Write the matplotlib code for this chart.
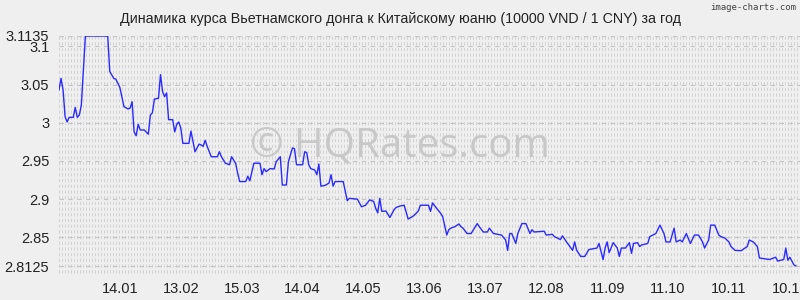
import numpy as np
import matplotlib
matplotlib.use('Agg')
import matplotlib.pyplot as plt

# day number since 15.12 of the previous year
days = [0, 1, 2, 3, 4, 5, 7, 8, 9, 10, 11, 13, 24, 25, 27, 28, 30, 32, 34, 35,
        36, 37, 38, 39, 40, 42, 44, 45, 46, 47, 49, 50, 51, 52, 53, 54, 56, 57, 58, 59,
        60, 61, 64, 65, 67, 69, 70, 71, 72, 73, 75, 78, 79, 80, 82, 84, 85, 87, 88, 89,
        92, 93, 94, 96, 99, 100, 101, 102, 104, 106, 107, 109, 110, 112, 113, 115, 116, 117, 120, 121,
        122, 123, 124, 126, 127, 128, 129, 131, 133, 134, 135, 136, 140, 142, 143, 147, 149, 151, 153, 155,
        156, 157, 158, 159, 161, 163, 165, 166, 168, 170, 171, 172, 174, 175, 177, 178, 182, 183, 184, 186,
        188, 189, 191, 192, 193, 195, 197, 198, 199, 201, 203, 206, 207, 209, 211, 212, 214, 216, 218, 220,
        221, 222, 223, 225, 226, 228, 230, 232, 233, 234, 239, 240, 243, 244, 247, 248, 250, 253, 254, 255,
        257, 259, 261, 265, 266, 268, 269, 270, 271, 273, 275, 276, 277, 279, 281, 282, 283, 285, 286, 287,
        290, 291, 294, 296, 298, 299, 301, 303, 304, 306, 307, 309, 311, 313, 315, 317, 318, 320, 321, 323,
        325, 326, 328, 330, 331, 333, 336, 339, 340, 342, 344, 345, 350, 353, 354, 357, 358, 359, 360, 362,
        363]
rates = [3.043, 3.058, 3.043, 3.008, 3.001, 3.007, 3.007, 3.020, 3.007, 3.010, 3.023, 3.1135, 3.1135, 3.067, 3.058, 3.057, 3.046, 3.021, 3.018, 3.019,
         3.0275, 2.988, 2.983, 2.998, 2.9905, 2.9905, 2.985, 3.010, 3.013, 3.031, 3.032, 3.063, 3.041, 3.034, 3.039, 3.004, 3.004, 2.988, 2.998, 3.001,
         2.993, 2.973, 2.973, 2.989, 2.962, 2.972, 2.971, 2.969, 2.977, 2.969, 2.9555, 2.9555, 2.962, 2.9555, 2.947, 2.945, 2.9555, 2.947, 2.934, 2.923,
         2.923, 2.930, 2.924, 2.947, 2.947, 2.932, 2.940, 2.936, 2.940, 2.9395, 2.949, 2.9555, 2.9185, 2.9185, 2.949, 2.967, 2.966, 2.945, 2.945, 2.962,
         2.961, 2.945, 2.940, 2.938, 2.932, 2.946, 2.917, 2.918, 2.921, 2.932, 2.917, 2.923, 2.923, 2.898, 2.901, 2.900, 2.890, 2.892, 2.899, 2.897,
         2.888, 2.882, 2.901, 2.884, 2.8845, 2.876, 2.886, 2.889, 2.891, 2.892, 2.883, 2.874, 2.877, 2.879, 2.8845, 2.892, 2.892, 2.884, 2.895, 2.888,
         2.8815, 2.877, 2.853, 2.860, 2.862, 2.864, 2.8675, 2.864, 2.862, 2.855, 2.855, 2.868, 2.864, 2.857, 2.857, 2.862, 2.855, 2.854, 2.853, 2.8465,
         2.833, 2.855, 2.855, 2.842, 2.855, 2.868, 2.868, 2.855, 2.860, 2.857, 2.858, 2.853, 2.854, 2.851, 2.847, 2.852, 2.844, 2.833, 2.844, 2.833,
         2.825, 2.825, 2.834, 2.836, 2.842, 2.821, 2.836, 2.844, 2.830, 2.843, 2.836, 2.825, 2.836, 2.836, 2.843, 2.829, 2.842, 2.843, 2.838, 2.840,
         2.842, 2.851, 2.855, 2.866, 2.855, 2.844, 2.844, 2.862, 2.844, 2.8465, 2.844, 2.855, 2.842, 2.853, 2.853, 2.844, 2.836, 2.8465, 2.866, 2.866,
         2.853, 2.851, 2.849, 2.844, 2.838, 2.833, 2.8325, 2.838, 2.8465, 2.844, 2.838, 2.823, 2.821, 2.824, 2.819, 2.821, 2.836, 2.820, 2.824, 2.814,
         2.8125]

x_tick_days = [30, 60, 90, 120, 150, 180, 210, 240, 270, 300, 330, 360]
x_tick_labels = ['14.01', '13.02', '15.03', '14.04', '14.05', '13.06',
                 '13.07', '12.08', '11.09', '11.10', '10.11', '10.12']
y_ticks = [2.8125, 2.85, 2.9, 2.95, 3.0, 3.05, 3.1, 3.1135]
y_labels = ['2.8125', '2.85', '2.9', '2.95', '3', '3.05', '3.1', '3.1135']

title = 'Динамика курса Вьетнамского донга к Китайскому юаню (10000 VND / 1 CNY) за год'

plt.rcParams['font.family'] = ['Liberation Sans', 'DejaVu Sans']
bg = '#efefef'

fig = plt.figure(figsize=(8, 3), dpi=100, facecolor=bg)
ax = fig.add_axes([59 / 800, 24 / 300, 741 / 800, 240 / 300])
ax.set_facecolor(bg)

y_top = 3.1135
y_bot = 2.8125 - 10 * 0.301 / 230
ax.set_xlim(0, 365)
ax.set_ylim(y_bot, y_top)

# textured background grid: dense dashed vertical lines
gx = np.linspace(0, 365, 248)
ax.vlines(gx, y_top, y_bot, colors='#d2d2d2', linewidth=0.72,
          linestyles=(0, (3.2, 2.5)), zorder=1)
for yv in y_ticks:
    ax.axhline(yv, color='#c4c4c4', linewidth=0.8, linestyle=(0, (4, 4)), zorder=1)

ax.plot(days, rates, color='#2a2aff', linewidth=1.0, zorder=3)

fig.text(0.5, 1 - 146 / 300, '\u00a9 HQRates.com', ha='center', va='center',
         fontsize=29, color='#c8c8c8', family='Open Sans', zorder=2)

ax.set_xticks(x_tick_days)
ax.set_xticklabels(x_tick_labels)
ax.set_yticks(y_ticks)
ax.set_yticklabels(y_labels)
ax.tick_params(axis='both', length=0, labelsize=10.5, colors='#222222')
ax.tick_params(axis='y', pad=7)
ax.tick_params(axis='x', pad=4)
for s in ax.spines.values():
    s.set_visible(False)

fig.text(0.5, 1 - 19 / 300, title, ha='center', va='center', fontsize=10.3, color='#222222')
fig.text(796 / 800, 1 - 7 / 300, 'image-charts.com', ha='right', va='center',
         fontsize=6.5, color='#444444', family='DejaVu Sans Mono')

fig.savefig('out.png', dpi=100, facecolor=bg)
